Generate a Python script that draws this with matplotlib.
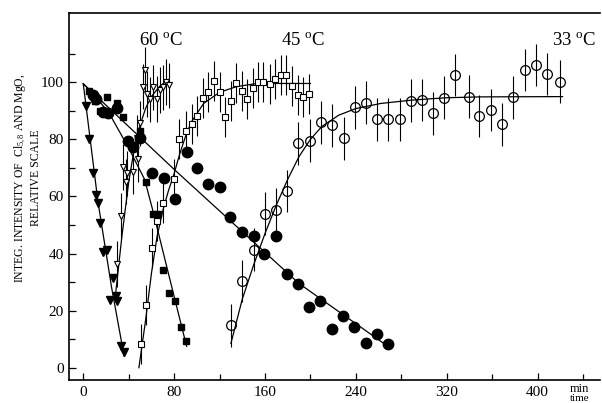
import matplotlib

matplotlib.use("Agg")
import matplotlib.pyplot as plt

# filled down-triangles, 60 C (Cl decay)
tri_fill_t = [2.4, 5.3, 8.3, 10.9, 13.2, 14.7, 17.6, 21.2, 23.5, 25.9, 28.8, 30.0, 33.0, 36.2]
tri_fill_v = [91.8, 80.1, 68.1, 60.5, 57.8, 50.6, 40.7, 41.3, 23.7, 31.6, 25.1, 23.5, 7.7, 5.4]
tri_fit_t = [0, 13, 25, 36]
tri_fit_v = [99.5, 58, 28, 4]

# open down-triangles, 60 C (MgO growth)
tri_open_t = [30.0, 33.0, 34.7, 37.9, 38.3, 43.8, 47.6, 48.0, 50.0, 52.3, 54.4, 56.5, 58.8,
              61.7, 64.7, 67.6, 70.5, 72.9, 75.3]
tri_open_v = [36.3, 53.2, 70.4, 65.2, 68.1, 68.7, 80.4, 73.0, 85.6, 98.5, 104.3, 95.8, 94.0,
              98.2, 94.2, 97.3, 98.2, 100.2, 98.9]
tri_open_err = 8
tri_open_fit_t = [28.5, 34, 40, 45, 50, 55, 60, 67, 75]
tri_open_fit_v = [26, 46, 65, 77, 85, 91, 95, 98.5, 101]

# filled squares, 45 C
sq_fill_t = [5.0, 10.3, 14.7, 20.6, 30.0, 34.7, 50.0, 55.6, 61.7, 66.1, 70.5, 75.8, 80.9, 85.9, 90.6]
sq_fill_v = [97.1, 93.5, 89.9, 94.7, 92.6, 87.7, 82.9, 65.0, 53.8, 53.8, 34.3, 26.3, 23.4, 14.4, 9.4]
sq_fit_t = [0, 10, 23, 40, 54, 62, 70, 80, 91]
sq_fit_v = [99.5, 95.5, 89, 77, 66, 54, 41, 25, 7.5]

# open squares, 45 C
sq_open_t = [50.6, 55.3, 60.3, 64.7, 70.0, 80.2, 84.7, 90.6, 95.6, 100.0, 105.3, 110.2, 115.3,
             120.5, 125.0, 130.0, 134.7, 139.7, 144.0, 149.4, 153.8, 158.7, 164.0, 169.0,
             174.0, 178.7, 183.8, 188.7, 193.5, 198.4]
sq_open_v = [8.3, 22.0, 41.9, 51.5, 57.8, 66.0, 80.0, 82.9, 85.3, 88.2, 94.4, 96.7, 100.6,
             96.7, 88.0, 93.6, 99.6, 97.1, 94.0, 97.9, 100.2, 100.2, 99.4, 101.0,
             102.6, 102.6, 98.7, 95.6, 94.7, 95.9]
sq_open_err = 7
sq_open_fit_t = [49, 55, 60, 65, 70, 75, 80, 85, 90, 95, 106, 120, 135, 153, 200]
sq_open_fit_v = [0, 17, 33, 46, 55, 62, 68, 75, 81, 86, 92.6, 96.5, 98.5, 99.6, 99.6]

# filled circles, 33 C
circ_fill_t = [8.6, 11.2, 17.4, 21.8, 30.0, 39.7, 43.8, 50.0, 60.3, 71.0, 80.9, 91.2, 100.0,
               110.2, 120.5, 129.4, 139.7, 149.9, 159.4, 169.9, 179.8, 189.3, 198.7, 208.7,
               219.0, 228.7, 238.7, 249.0, 258.7, 268.4]
circ_fill_v = [95.5, 94.3, 89.7, 89.1, 90.9, 79.5, 77.3, 80.6, 68.3, 66.5, 59.0, 75.7, 69.9,
               64.4, 63.2, 52.9, 47.7, 46.2, 39.9, 46.2, 32.7, 29.2, 21.4, 23.5,
               13.6, 18.1, 14.4, 8.6, 11.7, 8.2]
circ_fit_t = [0, 80, 190, 270]
circ_fit_v = [99.5, 69.5, 29.5, 7]

# open circles, 33 C
circ_open_t = [130.2, 139.7, 150.0, 159.6, 169.9, 179.4, 189.3, 199.3, 209.3, 219.0, 229.3,
               239.0, 249.0, 258.7, 268.4, 278.7, 288.7, 298.4, 308.1, 317.5, 326.9, 339.5,
               348.3, 358.6, 368.3, 378.3, 388.6, 398.3, 408.0, 419.5]
circ_open_v = [14.8, 30.4, 41.3, 53.9, 55.3, 61.9, 78.6, 79.5, 86.0, 85.0, 80.4,
               91.2, 92.9, 87.1, 87.1, 87.1, 93.6, 93.8, 89.1, 94.6, 102.6, 95.0,
               88.2, 90.3, 85.3, 94.7, 104.3, 106.1, 102.9, 100.2]
circ_open_err = 7.5
circ_open_fit_t = [130, 140, 150, 160, 170, 180, 190, 200, 210, 225, 240, 262, 290, 320, 350, 422]
circ_open_fit_v = [8.5, 24, 36, 47, 57, 66, 74, 80, 84.5, 88.5, 90.8, 92.6, 93.8, 94.6, 94.9, 95]

temp_labels = [r"60 $^{\mathrm{o}}$C", r"45 $^{\mathrm{o}}$C", r"33 $^{\mathrm{o}}$C"]
temp_label_t = [68.5, 193.7, 432]
x_ticks = [0, 80, 160, 240, 320, 400]
y_ticks = [0, 20, 40, 60, 80, 100]

plt.rcParams.update({
    "font.family": "serif",
    "font.serif": ["Liberation Serif", "DejaVu Serif"],
    "mathtext.fontset": "custom",
    "mathtext.rm": "Liberation Serif",
    "mathtext.it": "Liberation Serif:italic",
})

fig = plt.figure(figsize=(6.02, 4.03), dpi=100)
ax = fig.add_axes([0.1151, 0.0571, 0.8816, 0.9114])

lk = dict(color="black", lw=0.9, zorder=2)
ax.plot(tri_fit_t, tri_fit_v, **lk)
ax.plot(tri_open_fit_t, tri_open_fit_v, **lk)
ax.plot(sq_fit_t, sq_fit_v, **lk)
ax.plot(sq_open_fit_t, sq_open_fit_v, **lk)
ax.plot(circ_fit_t, circ_fit_v, **lk)
ax.plot(circ_open_fit_t, circ_open_fit_v, **lk)

ek = dict(ls="none", ecolor="black", elinewidth=0.8, capsize=0, zorder=3)
ax.errorbar(tri_open_t, tri_open_v, yerr=tri_open_err, marker="v", ms=4.5, mfc="white",
            mec="black", mew=0.8, **ek)
ax.errorbar(sq_open_t, sq_open_v, yerr=sq_open_err, marker="s", ms=4, mfc="white",
            mec="black", mew=0.8, **ek)
ax.errorbar(circ_open_t, circ_open_v, yerr=circ_open_err, marker="o", ms=7, mfc="none",
            mec="black", mew=0.9, **ek)

ax.plot(tri_fill_t, tri_fill_v, ls="none", marker="v", ms=5.5, color="black", zorder=4)
ax.plot(sq_fill_t, sq_fill_v, ls="none", marker="s", ms=4, color="black", zorder=4)
ax.plot(circ_fill_t, circ_fill_v, ls="none", marker="o", ms=7.5, color="black", zorder=4)

for lab, t in zip(temp_labels, temp_label_t):
    ax.text(t, 114.5, lab, fontsize=13.5, ha="center", va="center")

ax.set_xlim(-12.3, 455)
ax.set_ylim(-4.3, 124.4)
ax.set_xticks(x_ticks)
ax.set_xticks(range(40, 441, 80), minor=True)
ax.set_yticks(y_ticks)
ax.set_yticks(range(10, 121, 20), minor=True)
ax.tick_params(which="both", direction="in", labelsize=11, width=0.9)
ax.tick_params(which="major", length=5)
ax.tick_params(which="minor", length=4)
ax.tick_params(axis="x", pad=4)
ax.tick_params(axis="y", pad=4)
ax.spines["right"].set_visible(False)
for s in ("left", "bottom", "top"):
    ax.spines[s].set_linewidth(1.2)

ax.text(-0.079, 0.55, "INTEG. INTENSITY OF  Cl$_{5,8}$ AND MgO,\nRELATIVE SCALE",
        transform=ax.transAxes, rotation=90, ha="center", va="center",
        multialignment="center", fontsize=8.5, linespacing=1.25)
ax.text(0.962, -0.024, "min", transform=ax.transAxes, ha="center", va="center", fontsize=9)
ax.text(0.962, -0.051, "time", transform=ax.transAxes, ha="center", va="center", fontsize=8)

fig.savefig("out.png", dpi=100)
